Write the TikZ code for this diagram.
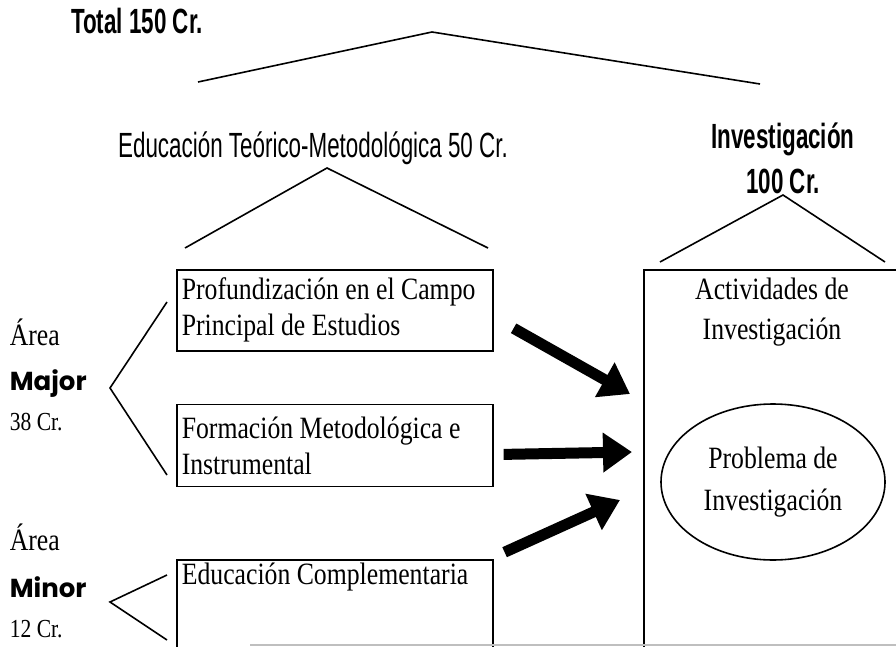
\documentclass[tikz,border=0pt]{standalone}
\usepackage{fontspec}
\setmainfont{Liberation Serif}[FakeStretch=0.83]
\newfontfamily\narrowsans{Liberation Sans}[FakeStretch=0.64]
\newfontfamily\roundsans{Poppins}
\usetikzlibrary{arrows.meta, positioning, shapes.geometric}

\begin{document}
\begin{tikzpicture}[
        x=1pt, y=-1pt,
        line width=1.6pt,
        head/.style={font=\narrowsans\fontsize{35}{45}\selectfont},
        headb/.style={font=\narrowsans\bfseries\fontsize{35}{45}\selectfont},
        cbox/.style={draw, anchor=north west, minimum width=316pt, text width=306pt,
                     inner xsep=4pt, align=flush left, font=\fontsize{31}{36}\selectfont},
        side/.style={anchor=west, inner sep=0pt, font=\fontsize{31}{34}\selectfont},
        credit/.style={anchor=west, inner sep=0pt, font=\fontsize{26}{28}\selectfont},
        area/.style={anchor=west, inner sep=0pt, font=\roundsans\bfseries\fontsize{26}{28}\selectfont},
        fat/.style={line width=11pt, -{Triangle[length=29pt, width=38pt]}}]

    \useasboundingbox (0,0) rectangle (896,647);
    \clip (0,0) rectangle (896,647);

    % headings
    \node [headb]               (total)  at (137,21)  {Total 150 Cr.};
    \node [head]                (theo)   at (313,148) {Educación Teórico-Metodológica 50 Cr.};
    \node [headb, align=center] (invest) at (783,158) {Investigación\\100 Cr.};

    \coordinate (peak)  at (432,32);
    \coordinate (peakL) at (327,168);
    \coordinate (peakR) at (783,195);
    \draw (198,82)  -- (peak)  -- (760,84);
    \draw (185,248) -- (peakL) -- (488,248);
    \draw (660,262) -- (peakR) -- (885,262);

    % course boxes
    \node [cbox, minimum height=81pt] (deep) at (176,269)
          {Profundización en el Campo\\Principal de Estudios};
    \node [cbox, minimum height=82pt, below=52pt of deep] (method)
          {Formación Metodológica e\\Instrumental};
    \node [draw, minimum width=316pt, minimum height=130pt, below=72pt of method] (compl) {};
    \node [cbox, draw=none, minimum height=0pt] (compltxt) at (compl.north west)
          {Educación Complementaria};

    % research box
    \node [draw, anchor=north west, minimum width=300pt, minimum height=420pt] (act) at (643,269) {};
    \node [align=center, font=\fontsize{31}{40}\selectfont] (acttxt) at (772,312)
          {Actividades de\\Investigación};
    \node [draw, ellipse, minimum width=224pt, minimum height=156pt, align=center,
           font=\fontsize{31}{42}\selectfont] (prob) at (773,482)
          {Problema de\\Investigación};

    % areas
    \node [side]   (area1) at (9,332) {Área};
    \node [area]   (major) at (9,384) {Major};
    \node [credit] (cr38)  at (9,422) {38 Cr.};
    \node [side]   (area2) at (9,537) {Área};
    \node [area]   (minor) at (9,587) {Minor};
    \node [credit] (cr12)  at (9,629) {12 Cr.};

    \coordinate (majtip) at (110,388);
    \coordinate (mintip) at (110,602);
    \draw (167,302) -- (majtip) -- (167,475);
    \draw (167,575) -- (mintip) -- (167,640);

    % flows into research
    \draw [fat] ([shift={(20pt,-18pt)}]deep.east)  -- ([shift={(-13pt,-125pt)}]act.north west);
    \draw [fat] ([shift={(10pt,-9pt)}]method.east) -- ([shift={(-11pt,-183pt)}]act.north west);
    \draw [fat] ([shift={(11pt,7pt)}]compl.north east) -- ([shift={(-23pt,-231pt)}]act.north west);

    \draw [gray!50, line width=1.5pt] (250,645) -- (896,645);
\end{tikzpicture}
\end{document}
